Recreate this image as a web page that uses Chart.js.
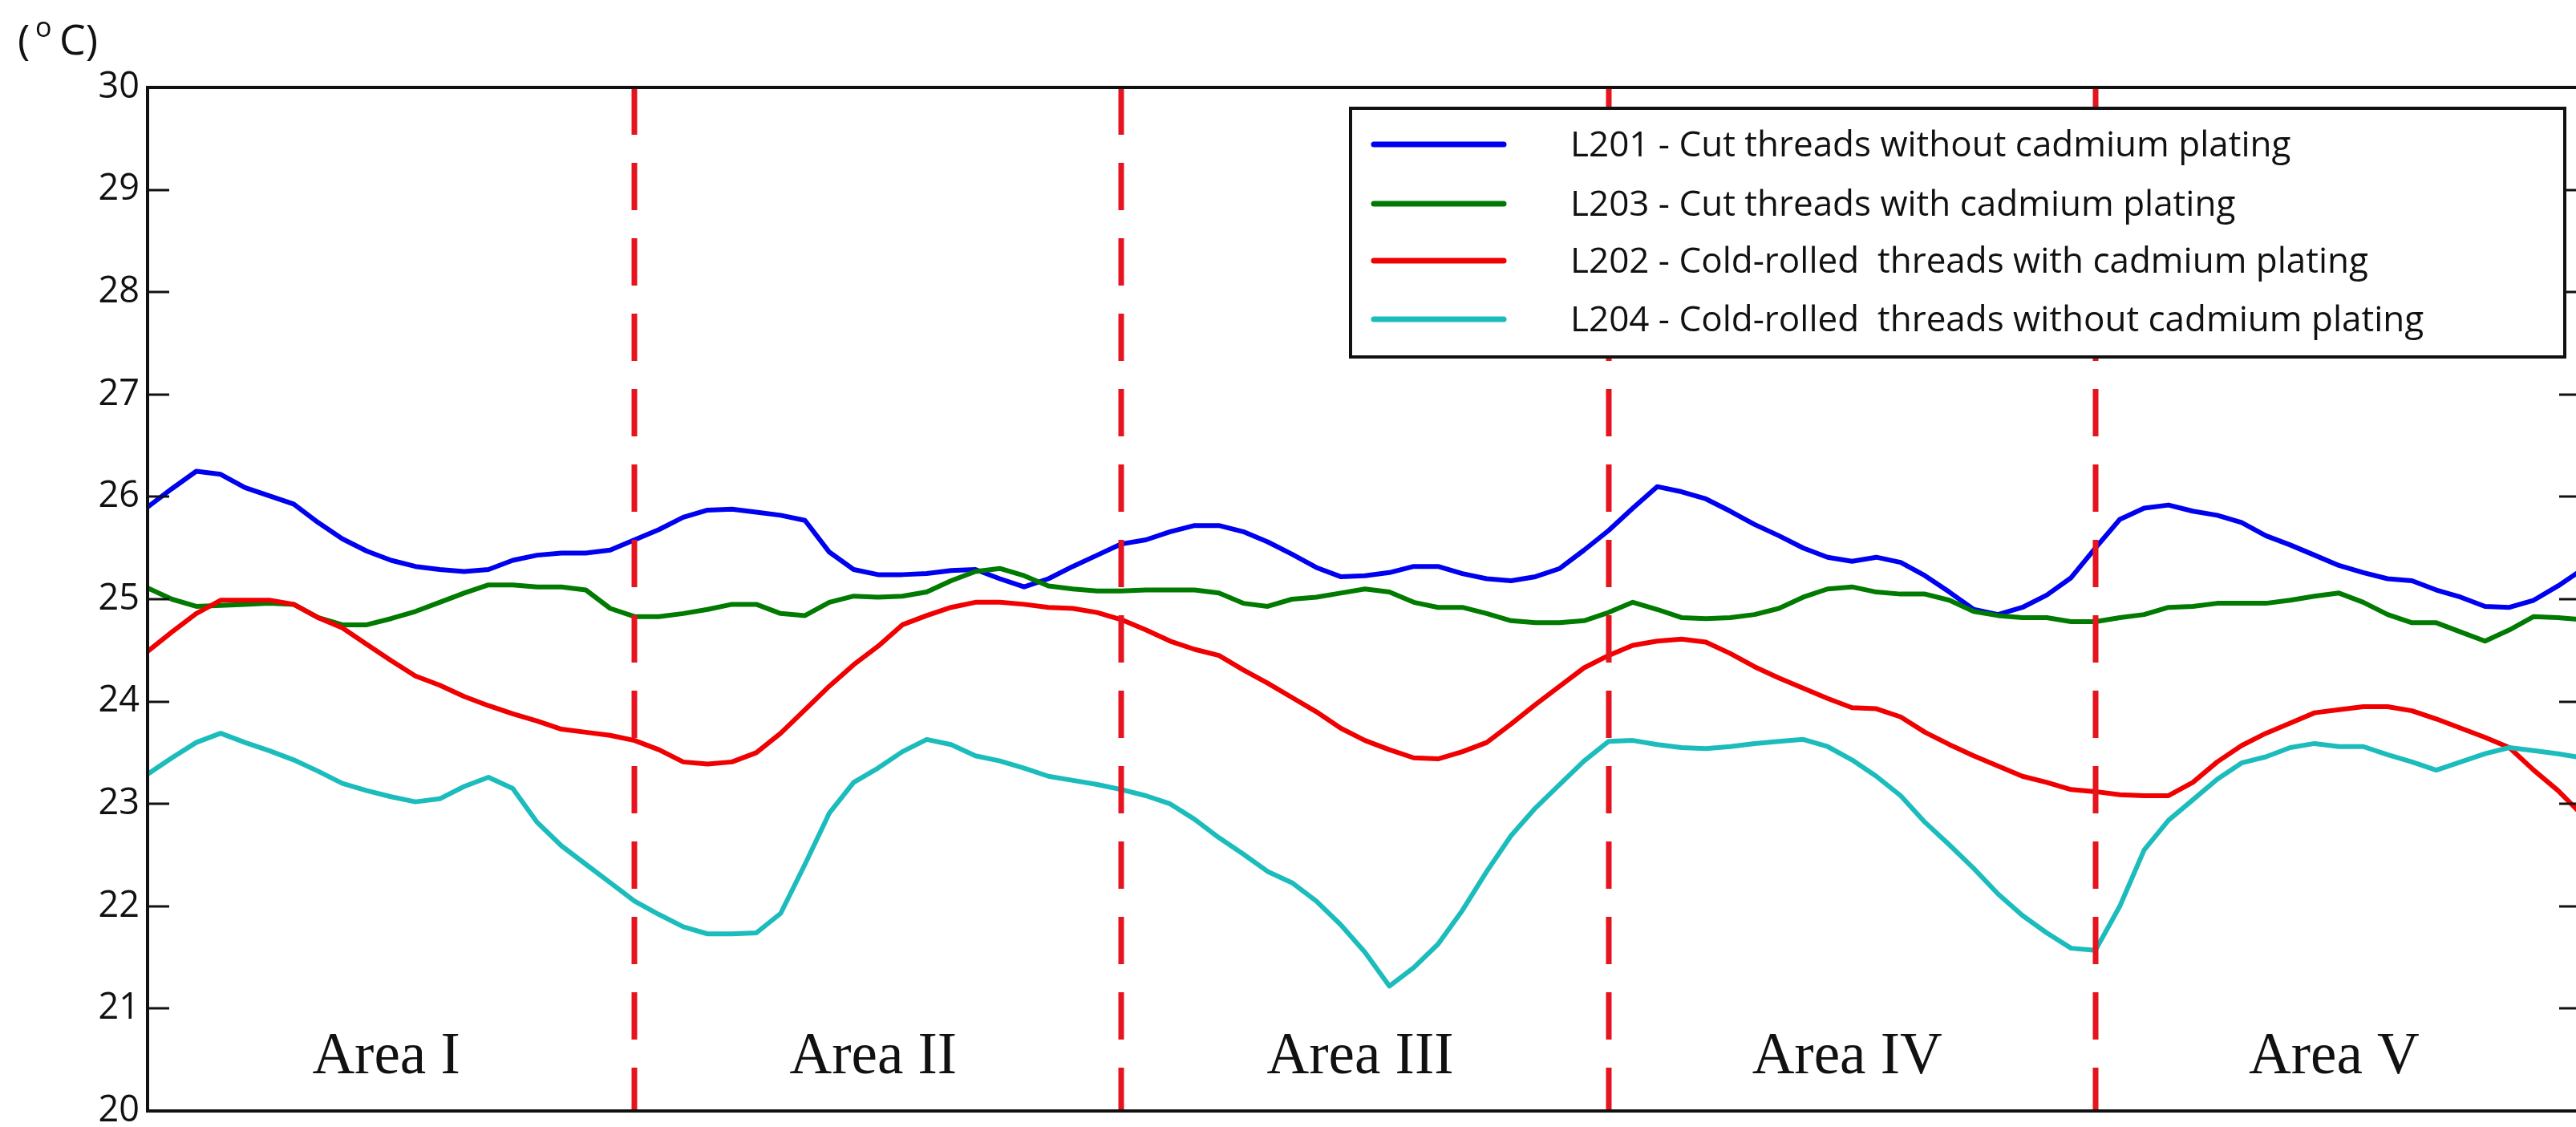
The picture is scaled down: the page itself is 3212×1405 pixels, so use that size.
<!DOCTYPE html>
<html>
<head>
<meta charset="utf-8">
<script src="https://cdn.jsdelivr.net/npm/chart.js@4.4.0/dist/chart.umd.min.js"></script>
<style>
  html, body { margin:0; padding:0; background:#fff; overflow:hidden; }
  #wrap { position:relative; width:3212px; height:1405px; overflow:hidden; }
  canvas { display:block; }
</style>
</head>
<body>
<div id="wrap"><canvas id="tempChart" width="3232" height="1405"></canvas></div>
<script>
  // --- data: 20 samples per area, 5 areas (101 points) ---
  var areaLabels = ['Area I','Area II','Area III','Area IV','Area V'];
  var seriesLabels = [
    'L201 - Cut threads without cadmium plating',
    'L203 - Cut threads with cadmium plating',
    'L202 - Cold-rolled  threads with cadmium plating',
    'L204 - Cold-rolled  threads without cadmium plating'
  ];
  var yTicks = [20,21,22,23,24,25,26,27,28,29,30];

  var l201 = [
    25.90,26.08,26.25,26.22,26.09,26.01,25.93,25.75,25.59,25.47,25.38,25.32,25.29,25.27,25.29,25.38,25.43,25.45,25.45,25.48,
    25.58,25.68,25.80,25.87,25.88,25.85,25.82,25.77,25.46,25.29,25.24,25.24,25.25,25.28,25.29,25.20,25.12,25.20,25.32,25.43,
    25.54,25.58,25.66,25.72,25.72,25.66,25.56,25.44,25.31,25.22,25.23,25.26,25.32,25.32,25.25,25.20,25.18,25.22,25.30,25.48,
    25.67,25.89,26.10,26.05,25.98,25.86,25.73,25.62,25.50,25.41,25.37,25.41,25.36,25.23,25.07,24.90,24.85,24.92,25.04,25.21,
    25.50,25.78,25.89,25.92,25.86,25.82,25.75,25.62,25.53,25.43,25.33,25.26,25.20,25.18,25.09,25.02,24.93,24.92,24.99,25.13,25.29
  ];
  var l203 = [
    25.11,25.00,24.93,24.94,24.95,24.96,24.95,24.82,24.75,24.75,24.81,24.88,24.97,25.06,25.14,25.14,25.12,25.12,25.09,24.91,
    24.83,24.83,24.86,24.90,24.95,24.95,24.86,24.84,24.97,25.03,25.02,25.03,25.07,25.18,25.27,25.30,25.23,25.13,25.10,25.08,
    25.08,25.09,25.09,25.09,25.06,24.96,24.93,25.00,25.02,25.06,25.10,25.07,24.97,24.92,24.92,24.86,24.79,24.77,24.77,24.79,
    24.87,24.97,24.90,24.82,24.81,24.82,24.85,24.91,25.02,25.10,25.12,25.07,25.05,25.05,24.99,24.88,24.84,24.82,24.82,24.78,
    24.78,24.82,24.85,24.92,24.93,24.96,24.96,24.96,24.99,25.03,25.06,24.97,24.85,24.77,24.77,24.68,24.59,24.70,24.83,24.82,24.80
  ];
  var l202 = [
    24.49,24.68,24.86,24.99,24.99,24.99,24.95,24.82,24.72,24.56,24.40,24.25,24.16,24.05,23.96,23.88,23.81,23.73,23.70,23.67,
    23.62,23.53,23.41,23.39,23.41,23.50,23.69,23.92,24.15,24.36,24.54,24.75,24.84,24.92,24.97,24.97,24.95,24.92,24.91,24.87,
    24.80,24.70,24.59,24.51,24.45,24.31,24.18,24.04,23.90,23.74,23.62,23.53,23.45,23.44,23.51,23.60,23.78,23.97,24.15,24.33,
    24.45,24.55,24.59,24.61,24.58,24.47,24.34,24.23,24.13,24.03,23.94,23.93,23.85,23.70,23.58,23.47,23.37,23.27,23.21,23.14,
    23.12,23.09,23.08,23.08,23.21,23.41,23.57,23.69,23.79,23.89,23.92,23.95,23.95,23.91,23.83,23.74,23.65,23.55,23.33,23.13,22.89
  ];
  var l204 = [
    23.29,23.45,23.60,23.69,23.60,23.52,23.43,23.32,23.20,23.13,23.07,23.02,23.05,23.17,23.26,23.15,22.82,22.59,22.41,22.23,
    22.05,21.92,21.80,21.73,21.73,21.74,21.93,22.41,22.91,23.21,23.35,23.51,23.63,23.58,23.47,23.42,23.35,23.27,23.23,23.19,
    23.14,23.08,23.00,22.85,22.67,22.51,22.34,22.23,22.05,21.82,21.55,21.22,21.40,21.63,21.96,22.34,22.69,22.96,23.19,23.42,
    23.61,23.62,23.58,23.55,23.54,23.56,23.59,23.61,23.63,23.56,23.43,23.27,23.08,22.82,22.60,22.37,22.12,21.91,21.74,21.59,
    21.57,22.00,22.55,22.84,23.04,23.24,23.40,23.46,23.55,23.59,23.56,23.56,23.48,23.41,23.33,23.41,23.49,23.55,23.52,23.49,23.45
  ];

  var PTS_PER_AREA = 20;
  function toPoints(arr){
    return arr.map(function(v,i){ return {x: i/PTS_PER_AREA, y: v}; });
  }

  // frame, inward ticks, area dividers, area names, legend box, unit label
  var decor = {
    id:'decor',
    afterDatasetsDraw:function(chart){
      var c = chart.ctx, a = chart.chartArea, xs = chart.scales.x;
      c.save();
      c.strokeStyle = '#e6141e';
      c.lineWidth = 7;
      c.setLineDash([59,35]);
      for(var i=1;i<areaLabels.length;i++){
        var px = Math.round(xs.getPixelForValue(i));
        c.beginPath(); c.moveTo(px,a.top); c.lineTo(px,a.bottom); c.stroke();
      }
      c.restore();
    },
    afterDraw:function(chart){
      var c = chart.ctx, a = chart.chartArea, xs = chart.scales.x, ys = chart.scales.y;
      c.save();
      // frame
      c.strokeStyle = '#111'; c.lineWidth = 4;
      c.strokeRect(a.left, a.top, a.right-a.left, a.bottom-a.top);
      // inward ticks
      c.lineWidth = 3;
      yTicks.forEach(function(t){
        if(t===20 || t===30) return;
        var py = Math.round(ys.getPixelForValue(t));
        c.beginPath(); c.moveTo(a.left,py); c.lineTo(a.left+27,py); c.stroke();
        c.beginPath(); c.moveTo(a.right-29,py); c.lineTo(a.right,py); c.stroke();
      });
      // area names
      c.fillStyle = '#111';
      c.font = '73px "Liberation Serif", "Times New Roman", serif';
      c.textAlign = 'center'; c.textBaseline = 'alphabetic';
      areaLabels.forEach(function(lbl,i){
        c.fillText(lbl, xs.getPixelForValue(i+0.5) - 6, 1338);
      });
      // legend box
      var bx=1684, by=135, bw=1514, bh=310;
      c.fillStyle = '#fff';
      c.fillRect(bx,by,bw,bh);
      c.strokeStyle = '#111'; c.lineWidth = 4;
      c.strokeRect(bx,by,bw,bh);
      var rows = [180,254,325,398];
      c.textAlign = 'left'; c.textBaseline = 'middle';
      c.font = '44px "Open Sans", sans-serif';
      chart.data.datasets.forEach(function(ds,i){
        c.strokeStyle = ds.borderColor; c.lineWidth = 7; c.lineCap = 'round';
        c.beginPath(); c.moveTo(1713,rows[i]); c.lineTo(1875,rows[i]); c.stroke();
        c.fillStyle = '#111';
        c.fillText(ds.label, 1958, rows[i]+2);
      });
      // unit label
      c.textBaseline = 'alphabetic'; c.textAlign = 'left';
      c.font = '52px "Open Sans", sans-serif';
      c.fillText('(', 22, 68);
      c.font = '34px "Open Sans", sans-serif';
      c.fillText('o', 44, 46);
      c.font = '52px "Open Sans", sans-serif';
      c.fillText('C)', 74, 68);
      c.restore();
    }
  };

  var ctx = document.getElementById('tempChart');
  new Chart(ctx,{
    type:'line',
    data:{
      datasets:[
        {label:seriesLabels[0], data:toPoints(l201), borderColor:'#0000f0', order:4},
        {label:seriesLabels[1], data:toPoints(l203), borderColor:'#007a00', order:3},
        {label:seriesLabels[2], data:toPoints(l202), borderColor:'#f00000', order:2},
        {label:seriesLabels[3], data:toPoints(l204), borderColor:'#1cbcbc', order:1}
      ]
    },
    options:{
      responsive:false,
      animation:false,
      devicePixelRatio:1,
      layout:{padding:{top:109, right:12, bottom:20, left:0}},
      elements:{
        point:{radius:0},
        line:{borderWidth:6, tension:0, fill:false, borderJoinStyle:'round', borderCapStyle:'round'}
      },
      plugins:{legend:{display:false}, tooltip:{enabled:false}},
      scales:{
        x:{type:'linear', min:0, max:5, display:false},
        y:{
          min:20, max:30,
          afterBuildTicks:function(s){ s.ticks = yTicks.map(function(v){ return {value:v}; }); },
          afterFit:function(s){ s.width = 184; s.paddingTop = 0; s.paddingBottom = 0; },
          ticks:{padding:10, color:'#111', font:{family:'Open Sans', size:45}},
          grid:{display:false, drawTicks:false},
          border:{display:false}
        }
      }
    },
    plugins:[decor]
  });
</script>
</body>
</html>
